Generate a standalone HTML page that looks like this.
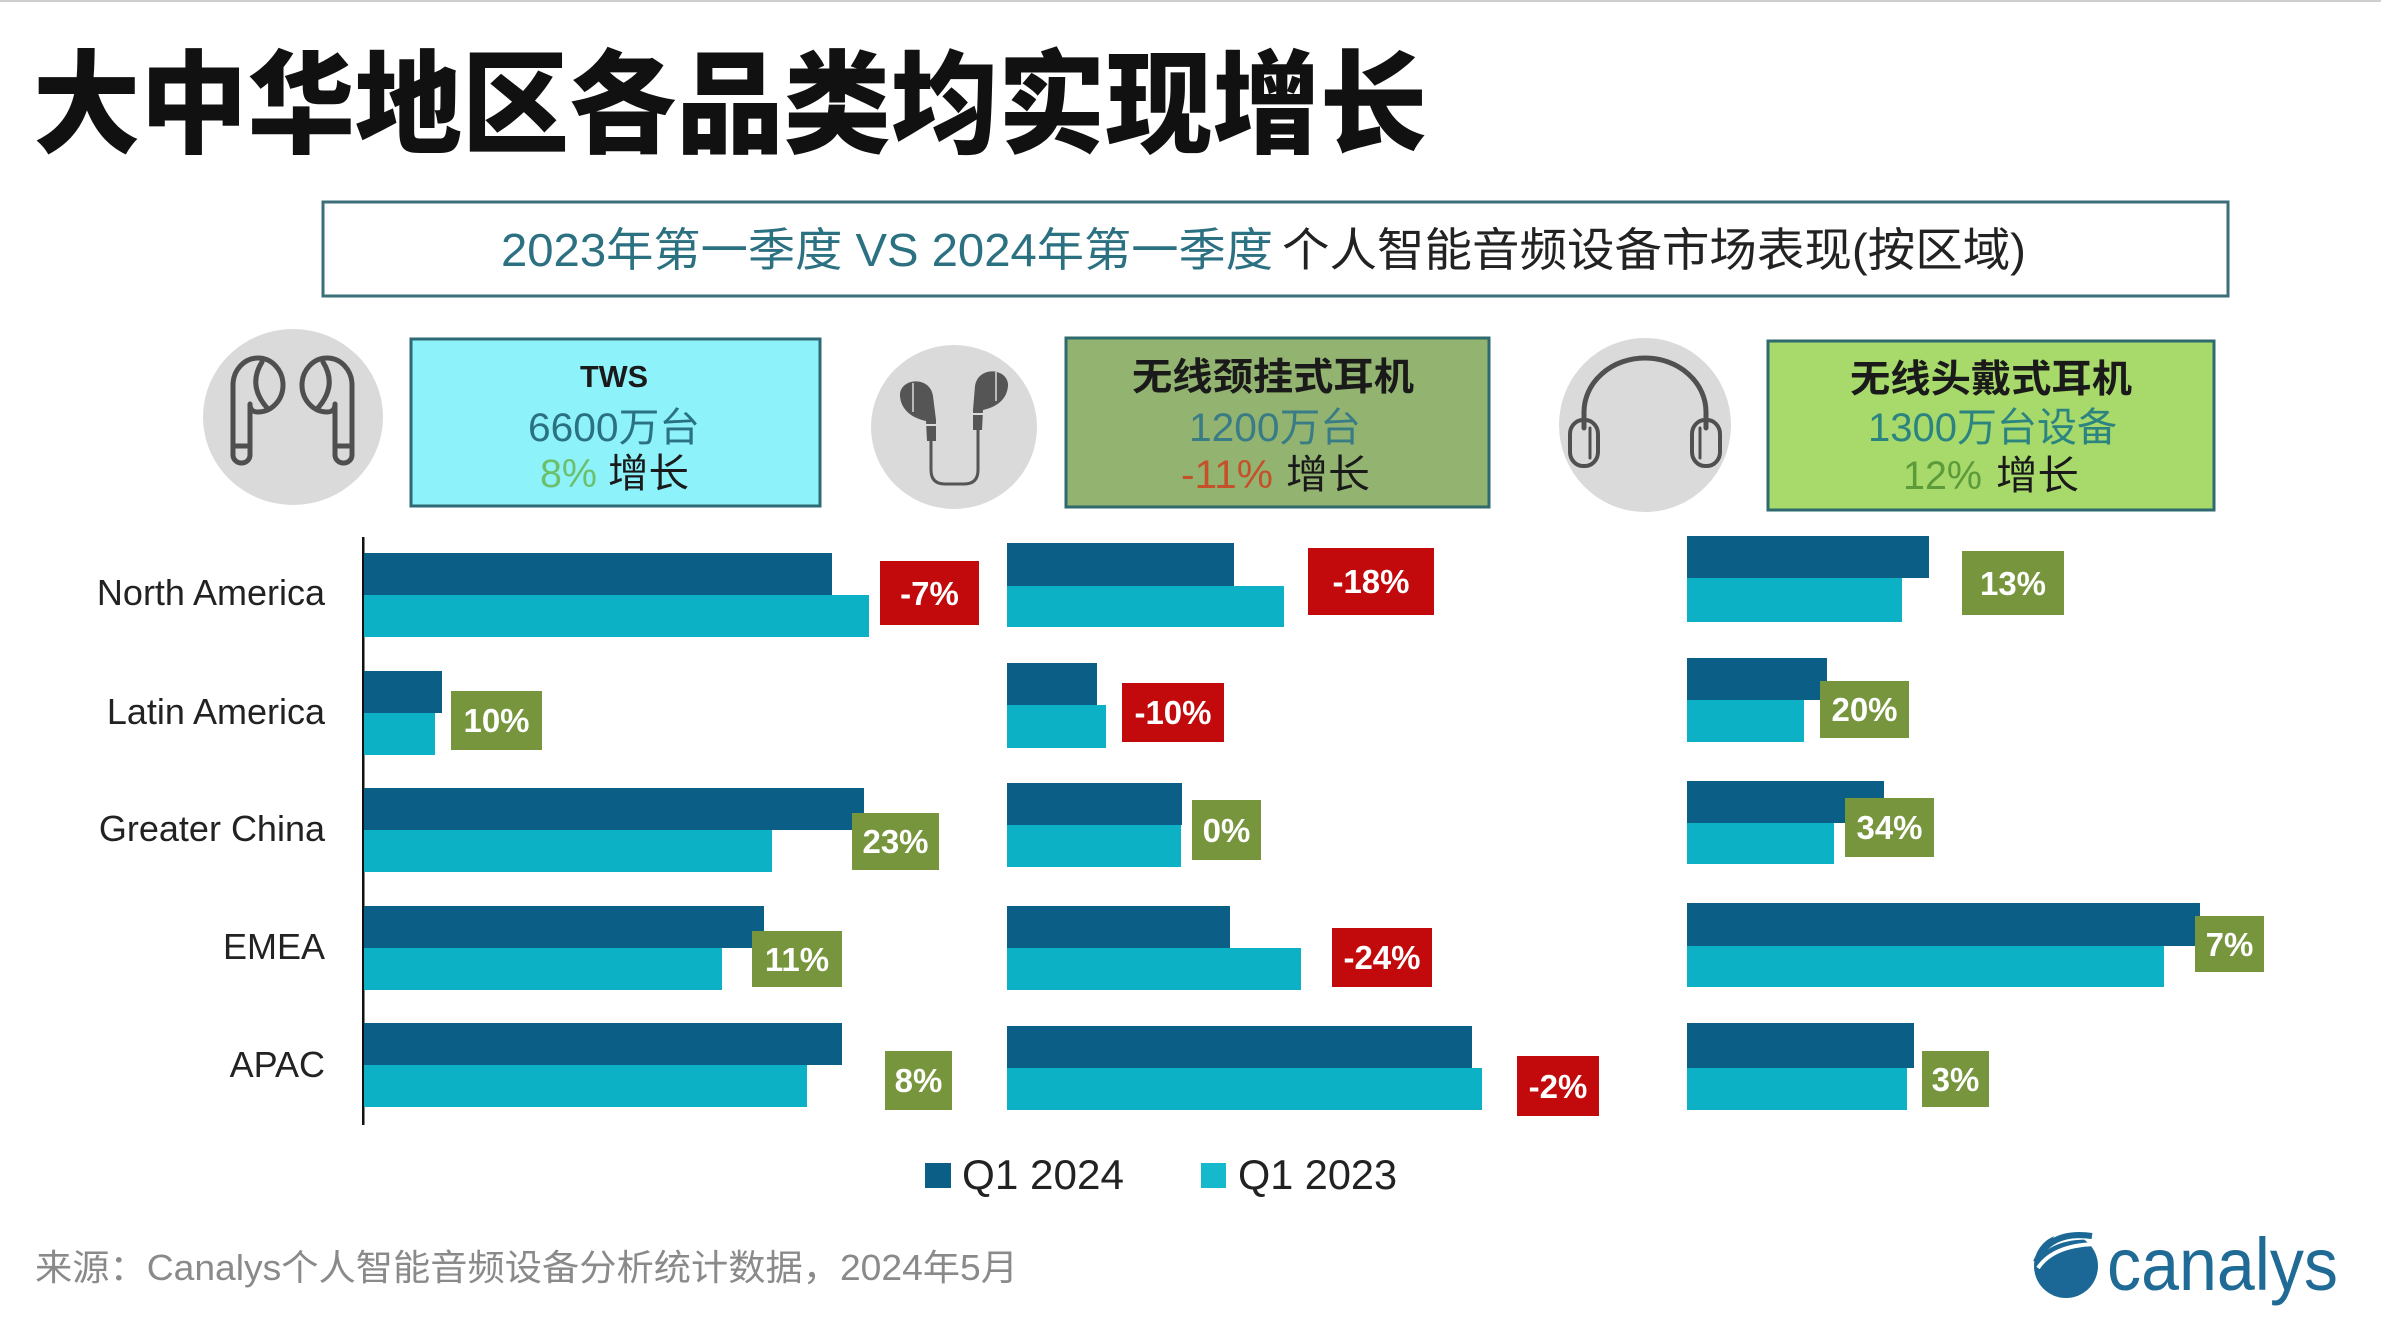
<!DOCTYPE html>
<html>
<head>
<meta charset="utf-8">
<style>
html,body{margin:0;padding:0;background:#fff;}
svg{display:block;}
</style>
</head>
<body>
<svg width="2381" height="1341" viewBox="0 0 2381 1341" xmlns="http://www.w3.org/2000/svg">
  <rect x="0" y="0" width="2381" height="1341" fill="#ffffff"/>
  <line x1="0" y1="1" x2="2381" y2="1" stroke="#cfcfcf" stroke-width="2"/>

  <!-- Title -->
  <text x="33" y="144" font-family="'Liberation Sans','Noto Sans CJK SC',sans-serif" font-size="112" font-weight="900" fill="#111" textLength="1394" lengthAdjust="spacingAndGlyphs">大中华地区各品类均实现增长</text>

  <!-- Subtitle box -->
  <rect x="323" y="202" width="1905" height="94" fill="#fff" stroke="#3b6f79" stroke-width="3"/>
  <text x="501" y="266" font-family="'Liberation Sans','Noto Sans CJK SC',sans-serif" font-size="46" fill="#2b7181" textLength="772" lengthAdjust="spacingAndGlyphs">2023年第一季度 VS 2024年第一季度</text>
  <text x="1282" y="266" font-family="'Liberation Sans','Noto Sans CJK SC',sans-serif" font-size="46" fill="#222" textLength="744" lengthAdjust="spacingAndGlyphs">个人智能音频设备市场表现(按区域)</text>

  <!-- Icon 1: TWS -->
  <ellipse cx="293" cy="417" rx="90" ry="88" fill="#dadada"/>
  <g fill="none" stroke="#4f4f4f" stroke-width="5" stroke-linecap="round" stroke-linejoin="round">
    <path d="M 233 455 L 233 385 A 25 27 0 0 1 283 385 A 25 27 0 0 1 258 412 Q 250 412 250 404 L 250 455 A 8.5 8 0 0 1 233 455 Z"/>
    <path d="M 262 362 Q 247 386 268 409"/>
    <line x1="233" y1="446" x2="250" y2="446"/>
    <path d="M 352 455 L 352 385 A 25 27 0 0 0 302 385 A 25 27 0 0 0 327 412 Q 335 412 335 404 L 335 455 A 8.5 8 0 0 0 352 455 Z"/>
    <path d="M 323 362 Q 338 386 317 409"/>
    <line x1="335" y1="446" x2="352" y2="446"/>
  </g>

  <!-- TWS box -->
  <rect x="411" y="339" width="409" height="167" fill="#8ef2fb" stroke="#2e6a76" stroke-width="3"/>
  <text x="580" y="387" font-family="'Liberation Sans','Noto Sans CJK SC',sans-serif" font-size="31" font-weight="bold" fill="#1a1a1a" textLength="68" lengthAdjust="spacingAndGlyphs">TWS</text>
  <text x="528" y="441" font-family="'Liberation Sans','Noto Sans CJK SC',sans-serif" font-size="40" fill="#2a7282" textLength="172" lengthAdjust="spacingAndGlyphs">6600万台</text>
  <text x="540" y="487" font-family="'Liberation Sans','Noto Sans CJK SC',sans-serif" font-size="40" fill="#6cc06c" textLength="57" lengthAdjust="spacingAndGlyphs">8%</text>
  <text x="608" y="487" font-family="'Liberation Sans','Noto Sans CJK SC',sans-serif" font-size="40" fill="#1a1a1a" textLength="81" lengthAdjust="spacingAndGlyphs">增长</text>

  <!-- Icon 2: neckband -->
  <ellipse cx="954" cy="427" rx="83" ry="82" fill="#dadada"/>
  <g fill="#555">
    <path d="M 900 396 C 899 378 930 375 933 396 L 936 420 L 936 441 L 927 441 L 926 421 C 912 418 901 410 900 396 Z"/>
    <path d="M 1008 386 C 1009 368 978 365 975 386 L 973 410 L 973 430 L 982 430 L 983 410 C 997 407 1007 399 1008 386 Z"/>
  </g>
  <line x1="913" y1="383" x2="913" y2="412" stroke="#b9b9b9" stroke-width="2"/>
  <line x1="996" y1="372" x2="996" y2="401" stroke="#b9b9b9" stroke-width="2"/>
  <line x1="926" y1="425" x2="936" y2="425" stroke="#dadada" stroke-width="2"/>
  <line x1="973" y1="414" x2="983" y2="414" stroke="#dadada" stroke-width="2"/>
  <path d="M 931 441 L 931 470 Q 931 484 945 484 L 964 484 Q 978 484 978 470 L 978 430" fill="none" stroke="#555" stroke-width="3"/>

  <!-- Neckband box -->
  <rect x="1066" y="338" width="423" height="169" fill="#93b470" stroke="#2e6a6e" stroke-width="3"/>
  <text x="1132" y="390" font-family="'Liberation Sans','Noto Sans CJK SC',sans-serif" font-size="38" font-weight="bold" fill="#1a1a1a" textLength="282" lengthAdjust="spacingAndGlyphs">无线颈挂式耳机</text>
  <text x="1189" y="441" font-family="'Liberation Sans','Noto Sans CJK SC',sans-serif" font-size="40" fill="#3a7c86" textLength="172" lengthAdjust="spacingAndGlyphs">1200万台</text>
  <text x="1181" y="488" font-family="'Liberation Sans','Noto Sans CJK SC',sans-serif" font-size="40" fill="#c4512a" textLength="92" lengthAdjust="spacingAndGlyphs">-11%</text>
  <text x="1286" y="488" font-family="'Liberation Sans','Noto Sans CJK SC',sans-serif" font-size="40" fill="#1a1a1a" textLength="84" lengthAdjust="spacingAndGlyphs">增长</text>

  <!-- Icon 3: headphones -->
  <ellipse cx="1645" cy="425" rx="86" ry="87" fill="#dadada"/>
  <g fill="none" stroke="#505050" stroke-linecap="round">
    <path d="M 1584 428 L 1584 412 A 61 54 0 0 1 1706 412 L 1706 428" stroke-width="5"/>
    <rect x="1570" y="420" width="28" height="46" rx="13" ry="14" stroke-width="4"/>
    <rect x="1692" y="420" width="28" height="46" rx="13" ry="14" stroke-width="4"/>
    <line x1="1590" y1="428" x2="1590" y2="458" stroke-width="3"/>
    <line x1="1700" y1="428" x2="1700" y2="458" stroke-width="3"/>
  </g>

  <!-- Headband box -->
  <rect x="1768" y="341" width="446" height="169" fill="#a7d96b" stroke="#2e6a6e" stroke-width="3"/>
  <text x="1850" y="392" font-family="'Liberation Sans','Noto Sans CJK SC',sans-serif" font-size="38" font-weight="bold" fill="#1a1a1a" textLength="282" lengthAdjust="spacingAndGlyphs">无线头戴式耳机</text>
  <text x="1868" y="441" font-family="'Liberation Sans','Noto Sans CJK SC',sans-serif" font-size="40" fill="#2c8480" textLength="249" lengthAdjust="spacingAndGlyphs">1300万台设备</text>
  <text x="1903" y="489" font-family="'Liberation Sans','Noto Sans CJK SC',sans-serif" font-size="40" fill="#5c9a3a" textLength="79" lengthAdjust="spacingAndGlyphs">12%</text>
  <text x="1996" y="489" font-family="'Liberation Sans','Noto Sans CJK SC',sans-serif" font-size="40" fill="#1a1a1a" textLength="83" lengthAdjust="spacingAndGlyphs">增长</text>

  <!-- Row labels -->
  <g font-family="'Liberation Sans',sans-serif" font-size="36" fill="#222" text-anchor="end">
    <text x="325" y="605">North America</text>
    <text x="325" y="724">Latin America</text>
    <text x="325" y="841">Greater China</text>
    <text x="325" y="959">EMEA</text>
    <text x="325" y="1077">APAC</text>
  </g>

  <!-- Axis -->
  <rect x="362" y="537" width="2.5" height="588" fill="#111"/>

  <!-- Panel 1 bars -->
  <g>
    <rect x="364" y="553" width="468" height="42" fill="#0b5f87"/>
    <rect x="364" y="595" width="505" height="42" fill="#0cb1c5"/>
    <rect x="364" y="671" width="78" height="42" fill="#0b5f87"/>
    <rect x="364" y="713" width="71" height="42" fill="#0cb1c5"/>
    <rect x="364" y="788" width="500" height="42" fill="#0b5f87"/>
    <rect x="364" y="830" width="408" height="42" fill="#0cb1c5"/>
    <rect x="364" y="906" width="400" height="42" fill="#0b5f87"/>
    <rect x="364" y="948" width="358" height="42" fill="#0cb1c5"/>
    <rect x="364" y="1023" width="478" height="42" fill="#0b5f87"/>
    <rect x="364" y="1065" width="443" height="42" fill="#0cb1c5"/>
  </g>

  <!-- Panel 2 bars -->
  <g>
    <rect x="1007" y="543" width="227" height="43" fill="#0b5f87"/>
    <rect x="1007" y="586" width="277" height="41" fill="#0cb1c5"/>
    <rect x="1007" y="663" width="90" height="42" fill="#0b5f87"/>
    <rect x="1007" y="705" width="99" height="43" fill="#0cb1c5"/>
    <rect x="1007" y="783" width="175" height="42" fill="#0b5f87"/>
    <rect x="1007" y="825" width="174" height="42" fill="#0cb1c5"/>
    <rect x="1007" y="906" width="223" height="42" fill="#0b5f87"/>
    <rect x="1007" y="948" width="294" height="42" fill="#0cb1c5"/>
    <rect x="1007" y="1026" width="465" height="42" fill="#0b5f87"/>
    <rect x="1007" y="1068" width="475" height="42" fill="#0cb1c5"/>
  </g>

  <!-- Panel 3 bars -->
  <g>
    <rect x="1687" y="536" width="242" height="42" fill="#0b5f87"/>
    <rect x="1687" y="578" width="215" height="44" fill="#0cb1c5"/>
    <rect x="1687" y="658" width="140" height="42" fill="#0b5f87"/>
    <rect x="1687" y="700" width="117" height="42" fill="#0cb1c5"/>
    <rect x="1687" y="781" width="197" height="42" fill="#0b5f87"/>
    <rect x="1687" y="823" width="147" height="41" fill="#0cb1c5"/>
    <rect x="1687" y="903" width="513" height="43" fill="#0b5f87"/>
    <rect x="1687" y="946" width="477" height="41" fill="#0cb1c5"/>
    <rect x="1687" y="1023" width="227" height="45" fill="#0b5f87"/>
    <rect x="1687" y="1068" width="220" height="42" fill="#0cb1c5"/>
  </g>

  <!-- Labels -->
  <g font-family="'Liberation Sans',sans-serif" font-size="33" font-weight="bold" fill="#fff" text-anchor="middle">
    <!-- Panel 1 -->
    <rect x="880" y="561" width="99" height="64" fill="#c20a0c"/>
    <text x="929.5" y="605">-7%</text>
    <rect x="451" y="691" width="91" height="59" fill="#76953c"/>
    <text x="496.5" y="732">10%</text>
    <rect x="852" y="813" width="87" height="57" fill="#76953c"/>
    <text x="895.5" y="853">23%</text>
    <rect x="752" y="931" width="90" height="56" fill="#76953c"/>
    <text x="797" y="971">11%</text>
    <rect x="885" y="1051" width="67" height="59" fill="#76953c"/>
    <text x="918.5" y="1092">8%</text>
    <!-- Panel 2 -->
    <rect x="1308" y="548" width="126" height="67" fill="#c20a0c"/>
    <text x="1371" y="593">-18%</text>
    <rect x="1122" y="683" width="102" height="59" fill="#c20a0c"/>
    <text x="1173" y="724">-10%</text>
    <rect x="1192" y="800" width="69" height="60" fill="#76953c"/>
    <text x="1226.5" y="842">0%</text>
    <rect x="1332" y="928" width="100" height="59" fill="#c20a0c"/>
    <text x="1382" y="969">-24%</text>
    <rect x="1517" y="1056" width="82" height="60" fill="#c20a0c"/>
    <text x="1558" y="1098">-2%</text>
    <!-- Panel 3 -->
    <rect x="1962" y="551" width="102" height="64" fill="#76953c"/>
    <text x="2013" y="595">13%</text>
    <rect x="1820" y="681" width="89" height="57" fill="#76953c"/>
    <text x="1864.5" y="721">20%</text>
    <rect x="1845" y="798" width="89" height="59" fill="#76953c"/>
    <text x="1889.5" y="839">34%</text>
    <rect x="2195" y="916" width="69" height="56" fill="#76953c"/>
    <text x="2229.5" y="956">7%</text>
    <rect x="1922" y="1051" width="67" height="56" fill="#76953c"/>
    <text x="1955.5" y="1091">3%</text>
  </g>

  <!-- Legend -->
  <rect x="925" y="1163" width="26" height="25" fill="#0b5f87"/>
  <text x="962" y="1189" font-family="'Liberation Sans',sans-serif" font-size="42" fill="#222" textLength="162" lengthAdjust="spacingAndGlyphs">Q1 2024</text>
  <rect x="1201" y="1163" width="25" height="25" fill="#16b8cc"/>
  <text x="1238" y="1189" font-family="'Liberation Sans',sans-serif" font-size="42" fill="#222" textLength="159" lengthAdjust="spacingAndGlyphs">Q1 2023</text>

  <!-- Footer -->
  <text x="35" y="1280" font-family="'Liberation Sans','Noto Sans CJK SC',sans-serif" font-size="36" fill="#8a8a8a" textLength="983" lengthAdjust="spacingAndGlyphs">来源：Canalys个人智能音频设备分析统计数据，2024年5月</text>

  <!-- Logo -->
  <circle cx="2066" cy="1266" r="32" fill="#1b6896"/>
  <path d="M 2036 1262 Q 2052 1236 2100 1240 L 2100 1228 L 2060 1228 Z" fill="#ffffff"/>
  <path d="M 2036 1262 Q 2050 1230 2092 1236" fill="none" stroke="#1b6896" stroke-width="6"/>
  <path d="M 2038 1268 Q 2054 1244 2100 1244" fill="none" stroke="#ffffff" stroke-width="4"/>
  <text x="2107" y="1290" font-family="'Liberation Sans',sans-serif" font-size="74" fill="#1f6b95" textLength="231" lengthAdjust="spacingAndGlyphs">canalys</text>
</svg>
</body>
</html>
